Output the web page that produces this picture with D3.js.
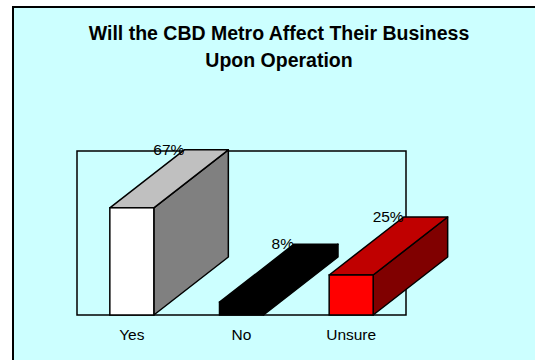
<!DOCTYPE html>
<html>
<head>
<meta charset="utf-8">
<script src="https://cdn.jsdelivr.net/npm/d3@7"></script>
<style>
  html, body { margin: 0; padding: 0; background: #ffffff; }
  svg { display: block; }
  text { font-family: "Liberation Sans", Arial, sans-serif; fill: #000; }
</style>
</head>
<body>
<svg id="chart" width="535" height="360"></svg>
<script>
// Survey answers and their shares (%)
const categories = ["Yes", "No", "Unsure"];
const values = [67, 8, 25];
const titleLines = ["Will the CBD Metro Affect Their Business", "Upon Operation"];

// Face colours per bar: front, top, side
const faceColors = [
  { front: "#ffffff", top: "#c0c0c0", side: "#808080", stroke: "#000" },
  { front: "#000000", top: "#000000", side: "#000000", stroke: "#000" },
  { front: "#ff0000", top: "#c00000", side: "#800000", stroke: "#000" }
];

const svg = d3.select("#chart");

// Chart area background with a heavy border (runs past the right/bottom edges)
svg.append("rect")
  .attr("x", 13).attr("y", 7)
  .attr("width", 540).attr("height", 370)
  .attr("fill", "#ccffff")
  .attr("stroke", "#000").attr("stroke-width", 2);

// Title
const title = svg.append("text")
  .attr("text-anchor", "middle")
  .attr("font-weight", "bold")
  .attr("font-size", 19.5);
titleLines.forEach((t, i) => {
  title.append("tspan")
    .attr("x", 279)
    .attr("y", 40 + i * 26.5)
    .text(t);
});

// Plot frame
const plot = { left: 77, right: 406, top: 151, bottom: 315 };
const depth = { dx: 74.5, dy: 58 };
const barWidth = 44;

const x = d3.scaleBand()
  .domain(categories)
  .range([plot.left, plot.right]);

const y = d3.scaleLinear()
  .domain([0, 100])
  .range([plot.bottom, plot.bottom - 160]);

svg.append("rect")
  .attr("x", plot.left).attr("y", plot.top)
  .attr("width", plot.right - plot.left)
  .attr("height", plot.bottom - plot.top)
  .attr("fill", "none")
  .attr("stroke", "#000").attr("stroke-width", 1.5);

// 3D bars: front face, top face, side face
const bars = svg.append("g").selectAll("g")
  .data(categories.map((c, i) => ({ cat: c, value: values[i], col: faceColors[i] })))
  .join("g");

bars.each(function(d) {
  const g = d3.select(this);
  const x0 = x(d.cat) + x.bandwidth() / 2 - barWidth / 2;
  const x1 = x0 + barWidth;
  const y0 = y(0);
  const y1 = y(d.value);
  const { dx, dy } = depth;
  const poly = pts => pts.map(p => p.join(",")).join(" ");

  g.append("polygon")
    .attr("points", poly([[x1, y1], [x1 + dx, y1 - dy], [x1 + dx, y0 - dy], [x1, y0]]))
    .attr("fill", d.col.side).attr("stroke", d.col.stroke)
    .attr("stroke-width", 1.5).attr("stroke-linejoin", "round");
  g.append("polygon")
    .attr("points", poly([[x0, y1], [x0 + dx, y1 - dy], [x1 + dx, y1 - dy], [x1, y1]]))
    .attr("fill", d.col.top).attr("stroke", d.col.stroke)
    .attr("stroke-width", 1.5).attr("stroke-linejoin", "round");
  g.append("rect")
    .attr("x", x0).attr("y", y1)
    .attr("width", barWidth).attr("height", y0 - y1)
    .attr("fill", d.col.front).attr("stroke", d.col.stroke)
    .attr("stroke-width", 1.5);

  // Value label at the back-left corner of the top face
  g.append("text")
    .attr("x", x0 + dx)
    .attr("y", y1 - dy + 5)
    .attr("text-anchor", "end")
    .attr("font-size", 15.5)
    .text(d.value + "%");
});

// Category axis labels
const xAxis = d3.axisBottom(x).tickSize(0).tickPadding(0);
const axisG = svg.append("g")
  .attr("transform", `translate(0,${plot.bottom})`)
  .call(xAxis);
axisG.attr("font-size", 15.5).attr("font-family", "Liberation Sans, Arial, sans-serif");
axisG.select(".domain").remove();
axisG.selectAll("text")
  .attr("fill", "#000")
  .attr("dy", null)
  .attr("y", 25);
</script>
</body>
</html>
